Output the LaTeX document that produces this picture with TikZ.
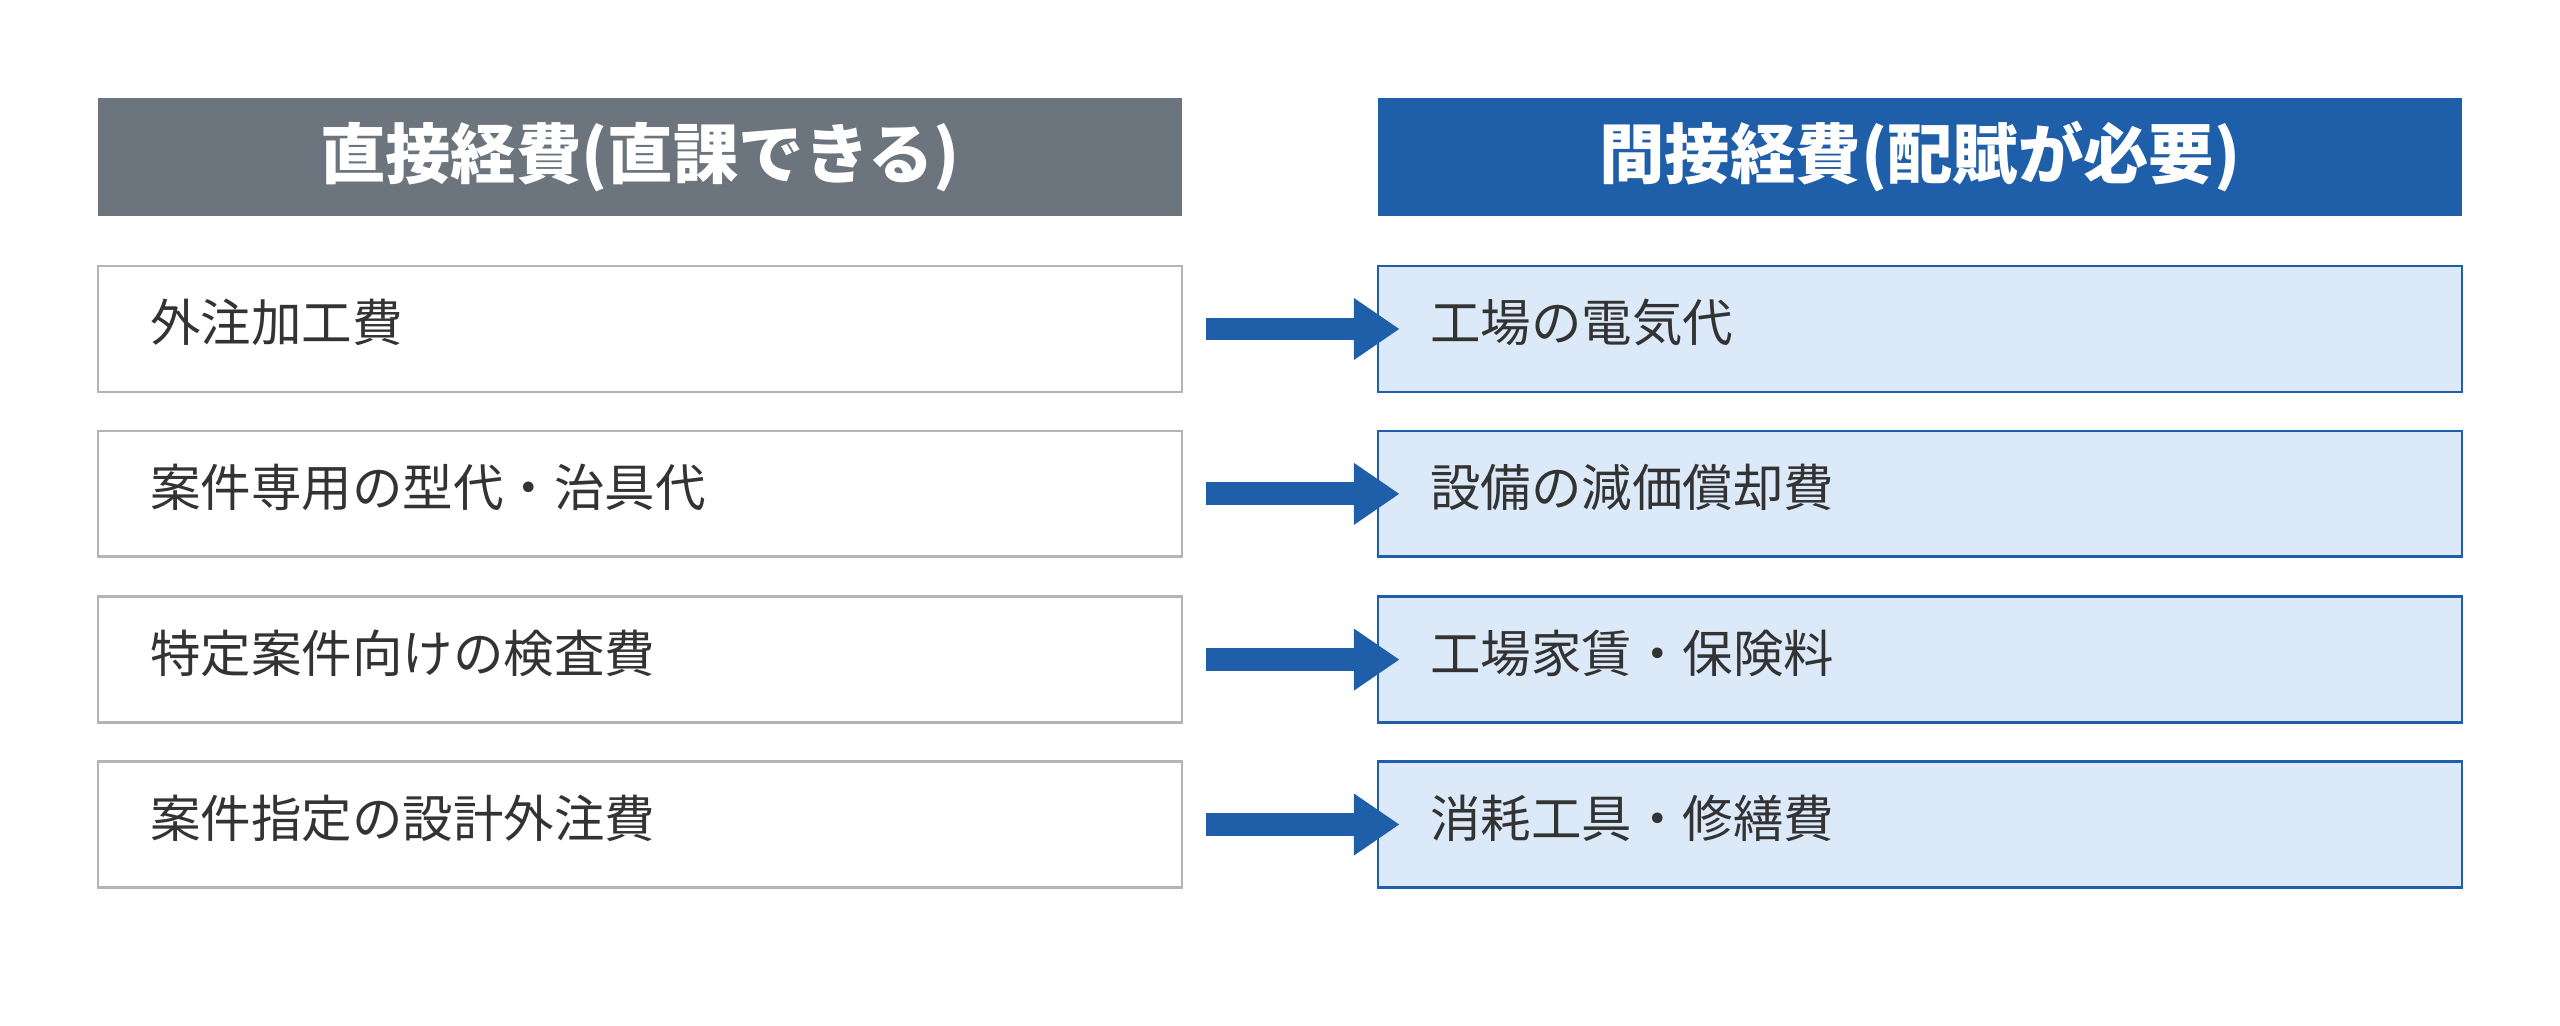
\documentclass[tikz,border=0pt]{standalone}
\usepackage{fontspec}
\setmainfont{Noto Sans CJK JP}
\usetikzlibrary{arrows.meta}
\definecolor{hdgray}{HTML}{6C757D}
\definecolor{hdblue}{HTML}{1F5FAA}
\definecolor{boxgray}{HTML}{B4B4B4}
\definecolor{boxfill}{HTML}{DCE9F8}
\definecolor{txt}{HTML}{333333}
\tikzset{
    HD/.style ={rectangle,minimum width = 3.32cm*10, minimum height = 3.6cm, text=white,
                font=\fontsize{57}{60}\selectfont\bfseries, inner sep=0pt},
    LB/.style ={rectangle,minimum width = 33.2cm, minimum height = 3.85cm, draw=boxgray,
                line width=2.2pt, fill=white},
    RB/.style ={rectangle,minimum width = 33.2cm, minimum height = 3.85cm, draw=hdblue,
                line width=2.2pt, fill=boxfill},
    TX/.style ={anchor=west, text=txt, font=\fontsize{44}{48}\selectfont, inner sep=0pt},
    AR/.style ={draw=hdblue, line width=20pt, shorten <=0.7cm, shorten >=-0.7cm,
                -{Triangle[length=1.4cm,width=1.8cm]}}}

\begin{document}
\begin{tikzpicture}[x=0.05cm,y=-0.05cm]
        \useasboundingbox (0,0) rectangle (1568,628);
        \node[HD,fill=hdgray] (h1) at (392,96) {直接経費(直課できる)};
        \node[HD,fill=hdblue] (h2) at (1176,96) {間接経費(配賦が必要)};
        \foreach \y/\lt/\rt [count=\i] in {
            201.5/外注加工費/工場の電気代,
            302.5/案件専用の型代・治具代/設備の減価償却費,
            404/特定案件向けの検査費/工場家賃・保険料,
            505/案件指定の設計外注費/消耗工具・修繕費}{
            \node[LB] (l\i) at (392,\y) {};
            \node[RB] (r\i) at (1176,\y) {};
            \node[TX] (lt\i) at (92,\y-4) {\lt};
            \node[TX] (rt\i) at (876,\y-4) {\rt};
            \draw[AR] (l\i.east) -- (r\i.west);
        }
        \end{tikzpicture}
\end{document}
